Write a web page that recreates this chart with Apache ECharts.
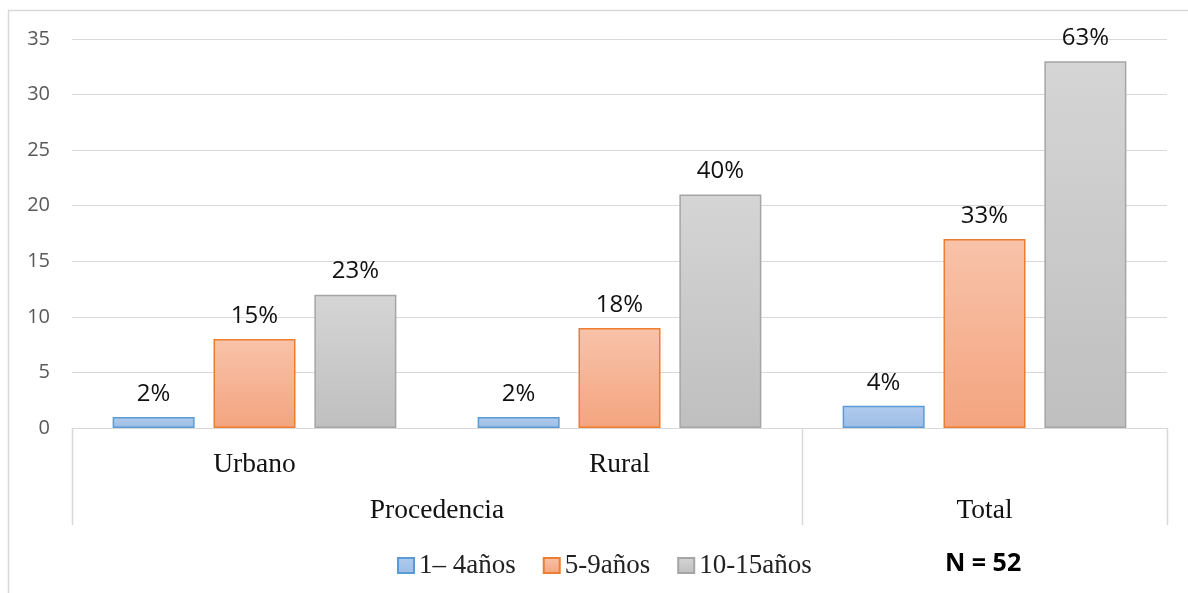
<!DOCTYPE html>
<html>
<head>
<meta charset="utf-8">
<script src="https://cdn.jsdelivr.net/npm/echarts@6/dist/echarts.min.js"></script>
<style>
  html, body { margin: 0; padding: 0; background: #fff; }
  #chart { width: 1188px; height: 593px; }
</style>
</head>
<body>
<div id="chart"></div>
<script>
// Categories on the first level of the x axis
const categories = ['Urbano', 'Rural', 'Total'];
const categoryLabels = ['Urbano', 'Rural', ''];
// Second-level groups (first and last category index covered)
const groupNames = ['Procedencia', 'Total'];
const groupFrom = [0, 2];
const groupTo = [1, 2];

// Counts per age group
const seriesNames = ['1\u2013 4años', '5-9años', '10-15años'];
const valuesAge1 = [1, 1, 2];
const valuesAge2 = [8, 9, 17];
const valuesAge3 = [12, 21, 33];
// Percent labels shown above each bar
const pctAge1 = ['2%', '2%', '4%'];
const pctAge2 = ['15%', '18%', '33%'];
const pctAge3 = ['23%', '40%', '63%'];

const yTicks = { min: 0, max: 35, interval: 5 };
const sampleNote = 'N = 52';

const chart = echarts.init(document.getElementById('chart'));

function grad(top, bottom) {
  return new echarts.graphic.LinearGradient(0, 0, 0, 1, [
    { offset: 0, color: top }, { offset: 1, color: bottom }
  ]);
}

const styles = [
  { fill: grad('#b1cbec', '#9dbde5'), border: '#5b9bd5' },
  { fill: grad('#f8c3aa', '#f4a47f'), border: '#ed7d31' },
  { fill: grad('#d5d5d5', '#bfbfbf'), border: '#a5a5a5' }
];
const valueSets = [valuesAge1, valuesAge2, valuesAge3];
const labelSets = [pctAge1, pctAge2, pctAge3];

const series = seriesNames.map((name, i) => ({
  name: name,
  type: 'bar',
  barWidth: 82,
  barGap: '23%',
  data: valueSets[i],
  itemStyle: { color: styles[i].fill, borderColor: styles[i].border, borderWidth: 1.5 },
  label: {
    show: true,
    position: 'top',
    distance: 11,
    fontFamily: 'Open Sans',
    fontSize: 24,
    color: '#111',
    formatter: p => labelSets[i][p.dataIndex]
  },
  emphasis: { disabled: true }
}));

const grid = { left: 72, right: 21, top: 39, bottom: 165 };

chart.setOption({
  animation: false,
  backgroundColor: '#fff',
  grid: grid,
  legend: {
    left: 397,
    top: 552,
    padding: 0,
    itemWidth: 16,
    itemHeight: 15,
    itemGap: 27,
    icon: 'rect',
    textStyle: { fontFamily: 'Liberation Serif', fontSize: 27, color: '#222', padding: [0, 0, 0, 0] },
    data: seriesNames
  },
  xAxis: {
    type: 'category',
    data: categories,
    axisLine: { show: true, lineStyle: { color: '#d9d9d9', width: 1 } },
    axisTick: { show: false },
    axisLabel: {
      margin: 23,
      fontFamily: 'Liberation Serif',
      fontSize: 27.5,
      color: '#111',
      formatter: (v, idx) => categoryLabels[idx]
    }
  },
  yAxis: {
    type: 'value',
    min: yTicks.min,
    max: yTicks.max,
    interval: yTicks.interval,
    axisLine: { show: false },
    axisTick: { show: false },
    splitLine: { lineStyle: { color: '#d9d9d9', width: 1 } },
    axisLabel: { margin: 22, fontFamily: 'Open Sans', fontSize: 20, color: '#595959' }
  },
  series: series
});

// Second-level axis: group separators and group names, placed from the category scale
function drawGroups() {
  const c0 = chart.convertToPixel({ xAxisIndex: 0 }, categories[0]);
  const c1 = chart.convertToPixel({ xAxisIndex: 0 }, categories[1]);
  const band = c1 - c0;
  const yBase = chart.convertToPixel({ yAxisIndex: 0 }, yTicks.min);
  const lineBottom = yBase + 97;
  const elements = [];
  const bounds = new Set();
  groupNames.forEach((g, i) => {
    const left = chart.convertToPixel({ xAxisIndex: 0 }, categories[groupFrom[i]]) - band / 2;
    const right = chart.convertToPixel({ xAxisIndex: 0 }, categories[groupTo[i]]) + band / 2;
    bounds.add(Math.round(left));
    bounds.add(Math.round(right));
    elements.push({
      type: 'text',
      x: (left + right) / 2,
      y: yBase + 83,
      style: {
        text: g,
        fill: '#111',
        font: '27.5px "Liberation Serif"',
        textAlign: 'center',
        textVerticalAlign: 'middle'
      },
      silent: true
    });
  });
  bounds.forEach(x => {
    elements.push({
      type: 'line',
      shape: { x1: x + 0.5, y1: yBase, x2: x + 0.5, y2: lineBottom },
      style: { stroke: '#d9d9d9', lineWidth: 1.5 },
      silent: true
    });
  });
  // sample size note beside the legend
  elements.push({
    type: 'text',
    x: 945,
    y: 564,
    style: {
      text: sampleNote,
      fill: '#000',
      font: 'bold 25px "Open Sans"',
      textAlign: 'left',
      textVerticalAlign: 'middle'
    },
    silent: true
  });
  // outer chart frame
  elements.push({
    type: 'rect',
    shape: { x: 8.5, y: 10.5, width: 1300, height: 700 },
    style: { fill: null, stroke: '#d9d9d9', lineWidth: 1.5 },
    silent: true
  });
  chart.setOption({ graphic: elements });
}
drawGroups();
</script>
</body>
</html>
